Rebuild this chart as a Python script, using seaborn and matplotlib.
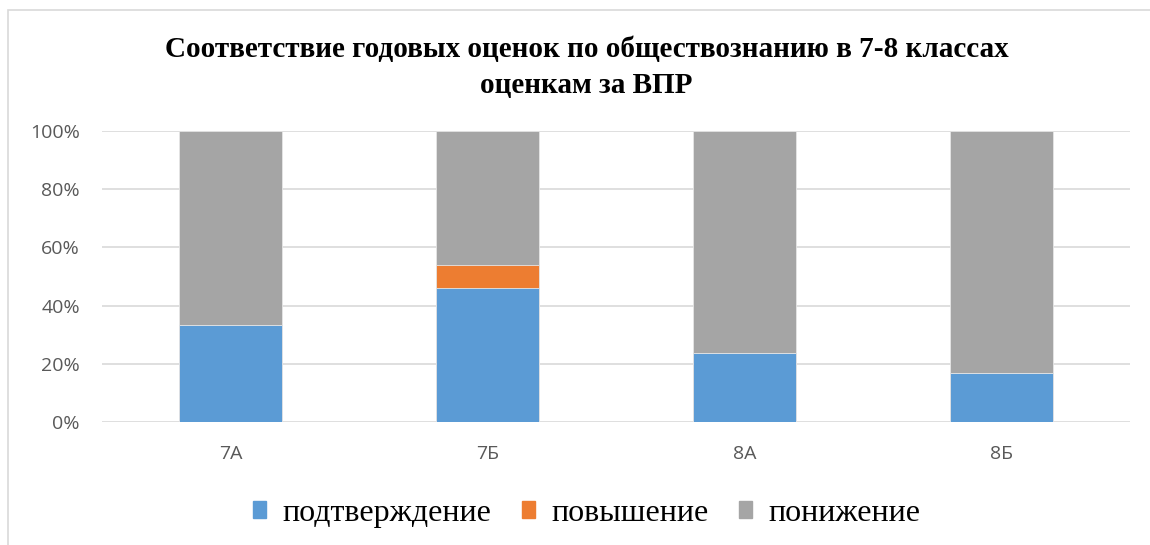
import pandas as pd
import matplotlib.pyplot as plt
import seaborn as sns
from matplotlib.patches import Rectangle
from matplotlib.ticker import PercentFormatter

# Data (shares of students, %)
classes = ["7А", "7Б", "8А", "8Б"]
confirm = [33.3, 46.2, 23.5, 16.7]     # подтверждение
raised = [0.0, 7.7, 0.0, 0.0]          # повышение
lowered = [66.7, 46.1, 76.5, 83.3]     # понижение
series_names = ["подтверждение", "повышение", "понижение"]
colors = ["#5B9BD5", "#ED7D31", "#A5A5A5"]

df = pd.DataFrame({"Класс": classes, "confirm": confirm,
                   "raised": raised, "lowered": lowered})
df["c1"] = df["confirm"]
df["c2"] = df["c1"] + df["raised"]
df["c3"] = df["c2"] + df["lowered"]

sns.set_style("white")
plt.rcParams["font.family"] = ["Open Sans", "DejaVu Sans"]

fig = plt.figure(figsize=(11.5, 5.45), dpi=100)
ax = fig.add_axes([0.0887, 0.2262, 0.8939, 0.5328])

# stacked bars drawn as overlapping cumulative bars (top layer first)
for col, color in zip(["c3", "c2", "c1"], colors[::-1]):
    sns.barplot(data=df, x="Класс", y=col, color=color, width=0.4,
                saturation=1, ax=ax, edgecolor="#e6e6e6", linewidth=0.6,
                zorder=3)

ax.set_ylim(0, 100)
ax.set_xlim(-0.5, 3.5)
ax.set_yticks(range(0, 101, 20))
ax.yaxis.set_major_formatter(PercentFormatter(decimals=0))
ax.grid(axis="y", color="#d9d9d9", linewidth=1.2, zorder=0)
ax.set_axisbelow(True)
for s in ax.spines.values():
    s.set_visible(False)
ax.set_xlabel("")
ax.set_ylabel("")
ax.tick_params(axis="both", length=0, labelsize=14, colors="#595959")
ax.tick_params(axis="y", pad=16)
ax.tick_params(axis="x", pad=17)

fig.text(0.51, 0.876, "Соответствие годовых оценок по обществознанию в 7-8 классах\nоценкам за ВПР",
         ha="center", va="center", fontsize=21, fontweight="bold", color="black",
         family="Liberation Serif", linespacing=1.4)

handles = [Rectangle((0, 0), 1, 1, color=c) for c in colors]
leg = fig.legend(handles, series_names, loc="center", bbox_to_anchor=(0.51, 0.058),
                 ncol=3, frameon=False, prop={"family": "Liberation Serif", "size": 23},
                 handlelength=0.42, handleheight=0.42, handletextpad=0.5,
                 columnspacing=0.95)
for t in leg.get_texts():
    t.set_color("black")

# chart border
fig.patches.append(Rectangle((8 / 1150, -0.05), 1.2, 1.05 - 10 / 545,
                             transform=fig.transFigure, fill=False,
                             edgecolor="#d9d9d9", linewidth=1.2))

fig.savefig("out.png", dpi=100)
